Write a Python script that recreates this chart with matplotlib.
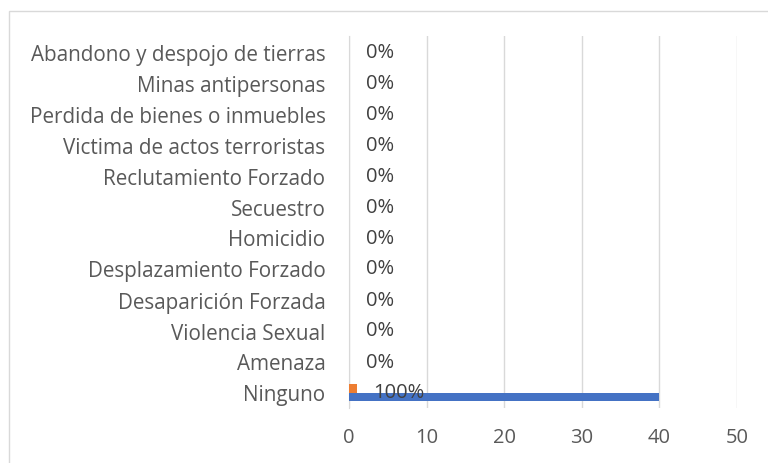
import numpy as np
import matplotlib.pyplot as plt
from matplotlib.patches import Rectangle

plt.rcParams['font.family'] = ['Open Sans', 'DejaVu Sans']

# datos
categorias = ['Ninguno', 'Amenaza', 'Violencia Sexual', 'Desaparición Forzada',
              'Desplazamiento Forzado', 'Homicidio', 'Secuestro', 'Reclutamiento Forzado',
              'Victima de actos terroristas', 'Perdida de bienes o inmuebles',
              'Minas antipersonas', 'Abandono y despojo de tierras']
cantidad = [40, 0, 0, 0, 0, 0, 0, 0, 0, 0, 0, 0]
porcentaje = [1.0, 0, 0, 0, 0, 0, 0, 0, 0, 0, 0, 0]
etiquetas = ['100%', '0%', '0%', '0%', '0%', '0%', '0%', '0%', '0%', '0%', '0%', '0%']

gris = '#595959'
fig = plt.figure(figsize=(7.68, 4.64), dpi=100)
ax = fig.add_axes([349 / 768, 1 - 409 / 464, 388 / 768, 372 / 464])

y = np.arange(len(categorias))
h = 0.26
ax.barh(y - h / 2, cantidad, height=h, color='#4472C4', zorder=3)
ax.barh(y + h / 2, porcentaje, height=h, color='#ED7D31', zorder=3)

for i, (v, t) in enumerate(zip(porcentaje, etiquetas)):
    ax.annotate(t, (v, y[i]), xytext=(12, 0), textcoords='offset points',
                va='center', ha='left', fontsize=14.5, color='#404040', zorder=4)

ax.set_xlim(0, 50)
ax.set_ylim(-0.5, len(categorias) - 0.5)
ax.set_xticks([0, 10, 20, 30, 40, 50])
ax.set_yticks(y)
ax.set_yticklabels(categorias)
ax.tick_params(length=0, labelsize=14.5, colors=gris)
ax.tick_params(axis='y', labelsize=14.9, pad=17)
ax.tick_params(axis='x', pad=14)
ax.grid(axis='x', color='#D9D9D9', linewidth=1, zorder=0)
for s in ['top', 'right', 'bottom']:
    ax.spines[s].set_visible(False)
ax.spines['left'].set_color('#D9D9D9')

# marco del gráfico
fig.patches.append(Rectangle((9 / 768, -0.1), 1.1, 1 - 12 / 464 + 0.1,
                             transform=fig.transFigure, fill=False,
                             edgecolor='#D9D9D9', linewidth=1))

fig.savefig('out.png', dpi=100)
